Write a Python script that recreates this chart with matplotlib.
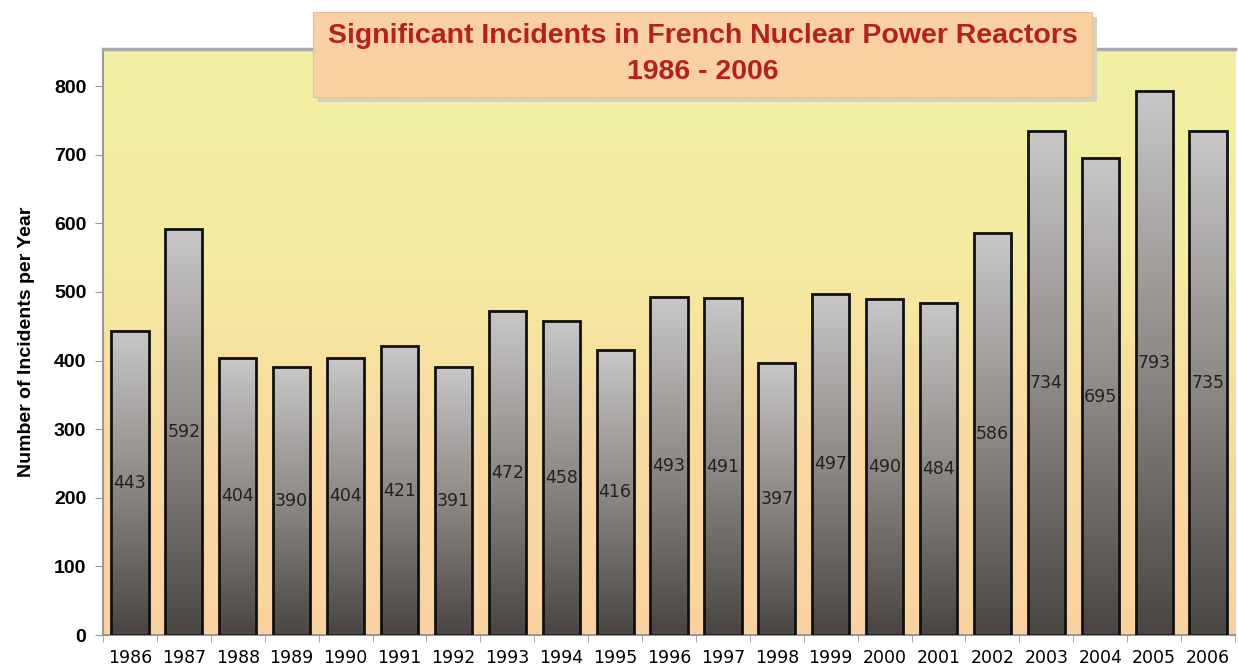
import numpy as np
import matplotlib.pyplot as plt
from matplotlib.colors import LinearSegmentedColormap
from matplotlib.patches import Rectangle

years = [str(y) for y in range(1986, 2007)]
incidents = [443, 592, 404, 390, 404, 421, 391, 472, 458, 416,
             493, 491, 397, 497, 490, 484, 586, 734, 695, 793, 735]
yticks = [0, 100, 200, 300, 400, 500, 600, 700, 800]

title_line1 = "Significant Incidents in French Nuclear Power Reactors"
title_line2 = "1986 - 2006"

fig = plt.figure(figsize=(12.38, 6.70), dpi=100)
ax = fig.add_axes([0.0832, 0.0522, 0.9144, 0.8747])

x = np.arange(len(years))
width = 0.69
ax.set_xlim(-0.5, len(years) - 0.5)
ax.set_ylim(0, 854)

# plot area background: yellow at top fading to peach at bottom
bg_cmap = LinearSegmentedColormap.from_list(
    "bg", [(0, "#fad2a0"), (0.35, "#f9daa0"), (0.65, "#f4eca2"), (1, "#f2f0a2")])
grad = np.linspace(0, 1, 256).reshape(-1, 1)
ax.imshow(grad, cmap=bg_cmap, aspect="auto", extent=(0, 1, 0, 1),
          transform=ax.transAxes, origin="lower", zorder=0)

# bars with a vertical grey gradient
bar_cmap = LinearSegmentedColormap.from_list("bar", ["#4a4542", "#8c8986", "#c9c7c7"])
for xi, val in zip(x, incidents):
    ax.imshow(grad, cmap=bar_cmap, aspect="auto", origin="lower",
              extent=(xi - width / 2, xi + width / 2, 0, val), zorder=2)
ax.bar(x, incidents, width=width, facecolor="none", edgecolor="#111111",
       linewidth=2, zorder=3)

for xi, val in zip(x, incidents):
    ax.text(xi, val / 2, str(val), ha="center", va="center", fontsize=12.5,
            family="DejaVu Sans", color="#222222", zorder=4)

ax.set_xticks(x)
ax.set_xticklabels(years, family="DejaVu Sans", fontsize=12.5)
ax.set_xticks(np.arange(-0.5, len(years), 1), minor=True)
ax.tick_params(axis="x", which="major", length=0, pad=10)
ax.tick_params(axis="x", which="minor", length=5, color="#999999")

ax.set_yticks(yticks)
ax.set_yticklabels([str(v) for v in yticks], family="Liberation Sans",
                   fontweight="bold", fontsize=14)
ax.tick_params(axis="y", length=6, color="#999999", pad=6)
ax.set_ylabel("Number of Incidents per Year", family="Liberation Sans",
              fontweight="bold", fontsize=14, labelpad=14)

for side in ["left", "bottom"]:
    ax.spines[side].set_color("#999999")
    ax.spines[side].set_linewidth(1.5)
ax.spines["top"].set_color("#aaaaaa")
ax.spines["top"].set_linewidth(2.5)
ax.spines["right"].set_visible(False)

# title box with drop shadow
bx, by, bw, bh = 0.2528, 0.855, 0.6292, 0.127
fig.patches.append(Rectangle((bx + 0.004, by - 0.007), bw, bh, transform=fig.transFigure,
                             facecolor="#d6d2c0", edgecolor="none", zorder=5))
fig.patches.append(Rectangle((bx, by), bw, bh, transform=fig.transFigure,
                             facecolor="#f9d0a2", edgecolor="#e8c090", linewidth=0.8, zorder=6))
title_font = dict(family="Liberation Sans", fontweight="bold", color="#b22222",
                  ha="center", va="center", zorder=7)
fig.text(bx + bw / 2, 1 - 36 / 670, title_line1, fontsize=20.5, **title_font)
fig.text(bx + bw / 2, 1 - 72 / 670, title_line2, fontsize=20.5, **title_font)

fig.savefig("out.png", dpi=100)
